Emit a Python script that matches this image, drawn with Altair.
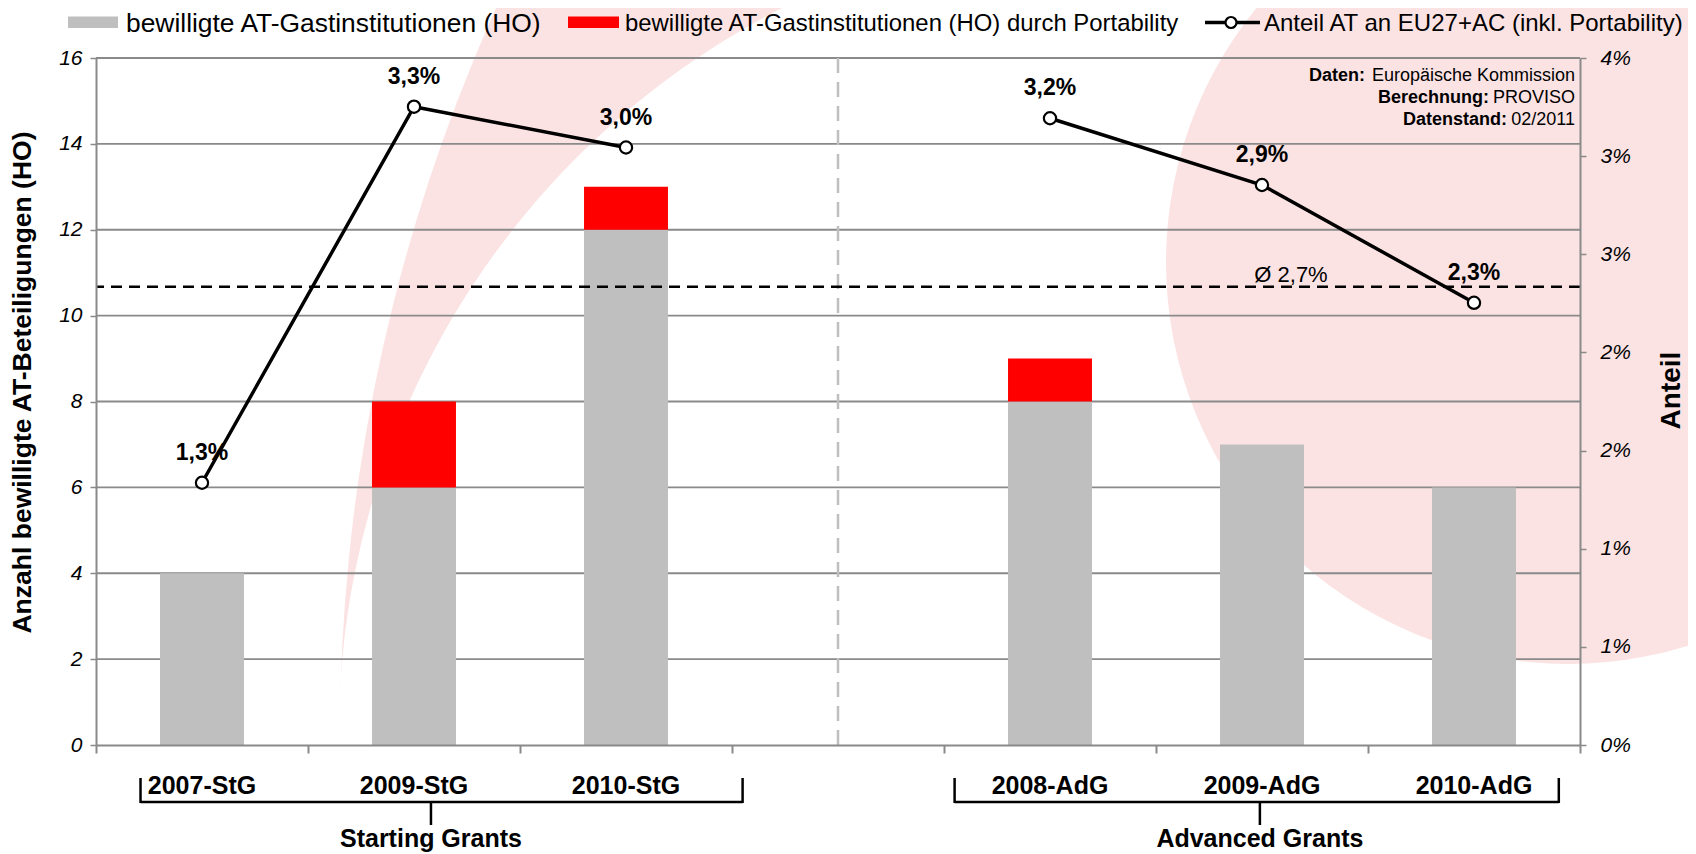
import altair as alt
import pandas as pd

# ---------------- data ----------------
categories = ["2007-StG", "2009-StG", "2010-StG", "2008-AdG", "2009-AdG", "2010-AdG"]
category_slots = [0, 1, 2, 4, 5, 6]          # slot 3 is the empty gap between the programmes
category_group = ["StG", "StG", "StG", "AdG", "AdG", "AdG"]
gray_values = [4, 6, 12, 8, 7, 6]            # bewilligte AT-Gastinstitutionen (HO)
red_values = [0, 2, 1, 1, 0, 0]              # ... durch Portability
share_values = [1.336, 3.252, 3.044, 3.193, 2.853, 2.253]   # Anteil AT in %
share_labels = ["1,3%", "3,3%", "3,0%", "3,2%", "2,9%", "2,3%"]
avg_level = 10.67                            # dashed mean line (left-axis units)
avg_label = "Ø  2,7%"
left_ticks = [0, 2, 4, 6, 8, 10, 12, 14, 16]
right_ticks = [0, 0.5, 1, 1.5, 2, 2.5, 3, 3.5]
right_tick_labels = ["0%", "1%", "1%", "2%", "2%", "3%", "3%", "4%"]
x_boundaries = [0, 1, 2, 3, 4, 5, 6, 7]
separator_slot = [3.5]
group_names = ["Starting Grants", "Advanced Grants"]
brace_start = [0.21, 4.05]
brace_end = [3.05, 6.90]
brace_tip = [1.58, 5.49]
legend_labels = ["bewilligte AT-Gastinstitutionen (HO)",
                 "bewilligte AT-Gastinstitutionen (HO) durch Portability",
                 "Anteil AT an EU27+AC (inkl. Portability)"]
source_bold = ["Daten:", "Berechnung:", "Datenstand:"]
source_text = ["Europäische Kommission", "PROVISO", "02/2011"]

# ---------------- styling / layout ----------------
FONT = "Liberation Sans"
GRAY_BAR = "#BFBFBF"
RED_BAR = "#FF0000"
AXIS_GRAY = "#8A8A8A"
PINK = "#FCE3E3"
W, H = 1484, 687
PL, PT = 96, 58          # page position of plot origin
TOTAL_W, TOTAL_H = 1680, 846
BAR_HALF = 0.198


def px(x):
    return x - PL


def py(y):
    return y - PT


x_scale = alt.Scale(domain=[0, 7], nice=False, zero=False)
yl_scale = alt.Scale(domain=[0, 16], nice=False, zero=True)
yr_scale = alt.Scale(domain=[0, 3.5], nice=False, zero=True)

x_axis = alt.Axis(values=x_boundaries, labels=False, ticks=True, tickSize=8,
                  tickColor=AXIS_GRAY, tickWidth=2, domainColor=AXIS_GRAY,
                  domainWidth=2, grid=False, title=None, zindex=1)
yl_axis = alt.Axis(values=left_ticks, format="d", grid=False,
                   labelFont=FONT, labelFontSize=21, labelFontStyle="italic",
                   labelColor="black", labelPadding=8,
                   tickSize=6, tickColor=AXIS_GRAY, tickWidth=1.5,
                   domainColor=AXIS_GRAY, domainWidth=2,
                   title="Anzahl bewilligte AT-Beteiligungen (HO)",
                   titleFont=FONT, titleFontSize=26.5, titleFontWeight="bold",
                   titleColor="black", titleAngle=270, titleAlign="center",
                   titleBaseline="middle", titleX=px(22), titleY=py(382), zindex=1)
label_expr = "[" + ",".join("'" + s + "'" for s in right_tick_labels) + "][round(datum.value*2)]"
yr_axis = alt.Axis(values=right_ticks, labelExpr=label_expr, orient="right", grid=False,
                   labelFont=FONT, labelFontSize=21, labelFontStyle="italic",
                   labelColor="black", labelPadding=14,
                   tickSize=6, tickColor=AXIS_GRAY, tickWidth=1.5,
                   domainColor=AXIS_GRAY, domainWidth=2,
                   title="Anteil", titleFont=FONT, titleFontSize=28, titleFontWeight="bold",
                   titleColor="black", titleAngle=270, titleAlign="center",
                   titleBaseline="middle", titleX=1671 - 1580, titleY=py(390), zindex=1)


def X(field):
    return alt.X(field, scale=x_scale, axis=x_axis)


def YL(field):
    return alt.Y(field, scale=yl_scale, axis=yl_axis)


def YR(field):
    return alt.Y(field, scale=yr_scale, axis=yr_axis)


one = pd.DataFrame({"d": [0]})

bars = pd.DataFrame({
    "cat": categories,
    "slot": category_slots,
    "gray": gray_values,
    "red": red_values,
})
bars["x0"] = bars["slot"] + 0.5 - BAR_HALF
bars["x1"] = bars["slot"] + 0.5 + BAR_HALF
bars["center"] = bars["slot"] + 0.5
bars["base"] = 0
bars["top"] = bars["gray"] + bars["red"]

line_df = pd.DataFrame({
    "center": [s + 0.5 for s in category_slots],
    "share": share_values,
    "label": share_labels,
    "grp": category_group,
})

# ---------- background decoration (pink swoosh + circle) ----------
def arc(cx, cy, r, t0, t1, color):
    return alt.Chart(one).mark_arc(
        outerRadius=r, innerRadius=0, theta=t0, theta2=t1, color=color, strokeWidth=0
    ).encode(x=alt.value(px(cx)), y=alt.value(py(cy)))

TAU = 6.283185
bg_a = arc(2111, 735, 1771, TAU * 0.75, TAU, PINK)
bg_b = arc(1152, 732, 813, 0, TAU, "white")
bg_c = arc(1568, 262, 402, 0, TAU, PINK)

# ---------- grid ----------
grid = alt.Chart(pd.DataFrame({"v": left_ticks[1:]})).mark_rule(
    color=AXIS_GRAY, strokeWidth=1.8
).encode(y=YL("v:Q"))

separator = alt.Chart(pd.DataFrame({"s": separator_slot})).mark_rule(
    color="#BFBFBF", strokeWidth=2.5, strokeDash=[15, 9]
).encode(x=X("s:Q"), y=alt.value(0), y2=alt.value(H))

gray_bars = alt.Chart(bars).mark_bar(color=GRAY_BAR).encode(
    x=X("x0:Q"), x2="x1:Q", y=YL("gray:Q"), y2="base:Q",
)
red_bars = alt.Chart(bars[bars["red"] > 0]).mark_bar(color=RED_BAR).encode(
    x=X("x0:Q"), x2="x1:Q", y=YL("top:Q"), y2="gray:Q",
)

avg_line = alt.Chart(pd.DataFrame({"v": [avg_level]})).mark_rule(
    color="black", strokeWidth=2.5, strokeDash=[11, 7]
).encode(y=YL("v:Q"))

avg_text = alt.Chart(pd.DataFrame({"v": [avg_level], "t": [avg_label]})).mark_text(
    font=FONT, fontSize=22, align="center", baseline="alphabetic", dy=-5, color="black"
).encode(x=alt.value(px(1291)), y=YL("v:Q"), text="t:N")

cat_labels = alt.Chart(bars).mark_text(
    font=FONT, fontSize=25, fontWeight="bold", baseline="middle", color="black"
).encode(x=X("center:Q"), y=alt.value(py(786)), text="cat:N")

brace_df = pd.DataFrame({"start": brace_start, "end": brace_end, "tip": brace_tip,
                         "name": group_names})
brace_h = alt.Chart(brace_df).mark_rule(color="black", strokeWidth=2.5).encode(
    x=X("start:Q"), x2="end:Q", y=alt.value(py(802)))
brace_l = alt.Chart(brace_df).mark_rule(color="black", strokeWidth=2.5).encode(
    x=X("start:Q"), y=alt.value(py(778)), y2=alt.value(py(803)))
brace_r = alt.Chart(brace_df).mark_rule(color="black", strokeWidth=2.5).encode(
    x=X("end:Q"), y=alt.value(py(778)), y2=alt.value(py(803)))
brace_t = alt.Chart(brace_df).mark_rule(color="black", strokeWidth=2.5).encode(
    x=X("tip:Q"), y=alt.value(py(801)), y2=alt.value(py(825)))
group_text = alt.Chart(brace_df).mark_text(
    font=FONT, fontSize=25, fontWeight="bold", baseline="middle", color="black"
).encode(x=X("tip:Q"), y=alt.value(py(839)), text="name:N")

# ---------- legend (manual, one row) ----------
LEG_Y = py(24)
SW_Y0, SW_Y1 = py(16.5), py(28)
leg_sw1 = alt.Chart(one).mark_rect(color=GRAY_BAR).encode(
    x=alt.value(px(68)), x2=alt.value(px(118)), y=alt.value(SW_Y0), y2=alt.value(SW_Y1))
leg_sw2 = alt.Chart(one).mark_rect(color=RED_BAR).encode(
    x=alt.value(px(568)), x2=alt.value(px(619)), y=alt.value(SW_Y0), y2=alt.value(SW_Y1))
leg_ln = alt.Chart(one).mark_rule(color="black", strokeWidth=3.5).encode(
    x=alt.value(px(1205)), x2=alt.value(px(1260)), y=alt.value(py(22.5)))
leg_pt = alt.Chart(one).mark_point(shape="circle", filled=True, fill="white", stroke="black",
                                   strokeWidth=2.2, size=120, opacity=1).encode(
    x=alt.value(px(1231)), y=alt.value(py(22.5)))


def leg_text(i, xpage, size):
    return alt.Chart(pd.DataFrame({"t": [legend_labels[i]]})).mark_text(
        font=FONT, fontSize=size, align="left", baseline="middle", color="black"
    ).encode(x=alt.value(px(xpage)), y=alt.value(LEG_Y), text="t:N")


leg_t1 = leg_text(0, 126, 26.4)
leg_t2 = leg_text(1, 625, 23.9)
leg_t3 = leg_text(2, 1264, 24)

# ---------- source note ----------
src_y = [76, 98, 120]
src_bold_right = [1365, 1489, 1507]
src_layers = []
for i in range(3):
    src_layers.append(alt.Chart(pd.DataFrame({"t": [source_text[i]]})).mark_text(
        font=FONT, fontSize=18, align="right", baseline="middle", color="black"
    ).encode(x=alt.value(px(1575)), y=alt.value(py(src_y[i])), text="t:N"))
    src_layers.append(alt.Chart(pd.DataFrame({"t": [source_bold[i]]})).mark_text(
        font=FONT, fontSize=18, fontWeight="bold", align="right", baseline="middle", color="black"
    ).encode(x=alt.value(px(src_bold_right[i])), y=alt.value(py(src_y[i])), text="t:N"))

left = alt.layer(bg_a, bg_b, bg_c, grid, separator, gray_bars, red_bars, avg_line, avg_text,
                 cat_labels, brace_h, brace_l, brace_r, brace_t, group_text,
                 leg_sw1, leg_t1, leg_sw2, leg_t2, leg_ln, leg_pt, leg_t3, *src_layers)

# ---------- share line (right axis) ----------
share_line = alt.Chart(line_df).mark_line(color="black", strokeWidth=3.5).encode(
    x=X("center:Q"), y=YR("share:Q"), detail="grp:N",
)
share_pts = alt.Chart(line_df).mark_point(shape="circle", filled=True, fill="white",
                                          stroke="black", strokeWidth=2.2, size=150,
                                          opacity=1).encode(
    x=X("center:Q"), y=YR("share:Q"),
)
share_txt = alt.Chart(line_df).mark_text(font=FONT, fontSize=23, fontWeight="bold",
                                         baseline="middle", dy=-30, color="black").encode(
    x=X("center:Q"), y=YR("share:Q"), text="label:N",
)
right = alt.layer(share_line, share_pts, share_txt)

chart = alt.layer(left, right).resolve_scale(y="independent").properties(
    width=W, height=H,
    autosize=alt.AutoSizeParams(type="none"),
    padding={"left": PL - 8, "top": PT - 8, "right": TOTAL_W - (PL - 8) - W,
             "bottom": TOTAL_H - (PT - 8) - H},
    background="white",
).configure_view(stroke=None)

chart.save("out.html", embed_options={"renderer": "svg", "actions": False})
